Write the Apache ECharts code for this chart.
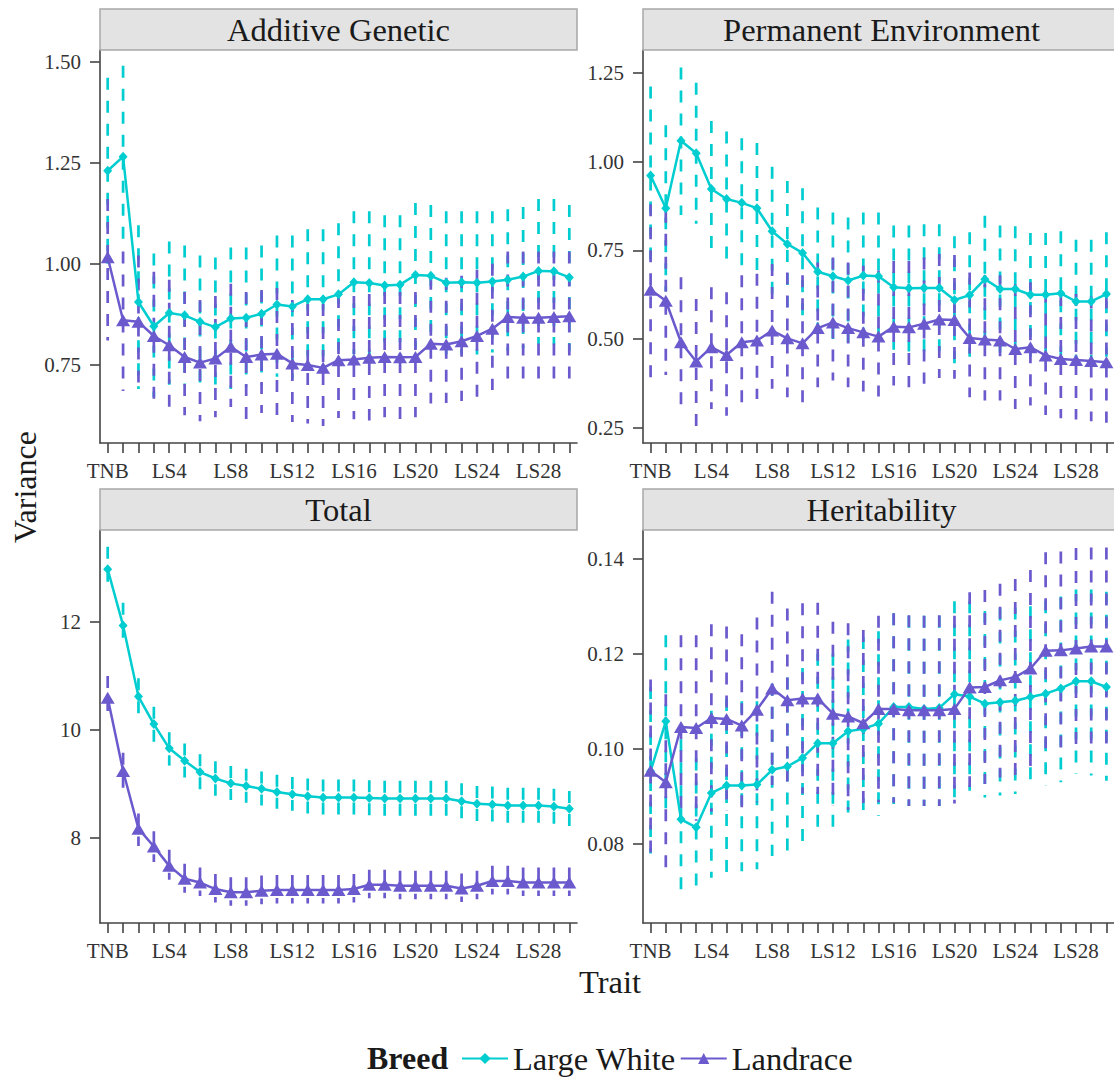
<!DOCTYPE html>
<html>
<head>
<meta charset="utf-8">
<script src="https://cdn.jsdelivr.net/npm/echarts@6/dist/echarts.min.js"></script>
<style>
  html, body { margin: 0; padding: 0; background: #fff; }
  #main { width: 1114px; height: 1082px; }
</style>
</head>
<body>
<div id="main"></div>
<script>
// x categories
var traits = ['TNB', 'LS1', 'LS2', 'LS3', 'LS4', 'LS5', 'LS6', 'LS7', 'LS8', 'LS9', 'LS10',
  'LS11', 'LS12', 'LS13', 'LS14', 'LS15', 'LS16', 'LS17', 'LS18', 'LS19', 'LS20',
  'LS21', 'LS22', 'LS23', 'LS24', 'LS25', 'LS26', 'LS27', 'LS28', 'LS29', 'LS30'];

// Additive Genetic
var addLW   = [1.23, 1.265, 0.905, 0.845, 0.878, 0.872, 0.856, 0.843, 0.864, 0.866, 0.876, 0.899, 0.894, 0.912, 0.912, 0.924, 0.954, 0.952, 0.946, 0.948, 0.972, 0.970, 0.953, 0.954, 0.953, 0.956, 0.960, 0.968, 0.982, 0.981, 0.966];
var addLWhi = [1.46, 1.49, 1.095, 1.025, 1.055, 1.045, 1.02, 1.015, 1.04, 1.04, 1.045, 1.07, 1.07, 1.085, 1.085, 1.10, 1.13, 1.13, 1.12, 1.12, 1.15, 1.145, 1.13, 1.13, 1.13, 1.13, 1.135, 1.14, 1.16, 1.16, 1.145];
var addLWlo = [1.00, 1.04, 0.69, 0.67, 0.70, 0.70, 0.685, 0.675, 0.69, 0.695, 0.70, 0.72, 0.715, 0.735, 0.735, 0.745, 0.775, 0.77, 0.77, 0.77, 0.79, 0.79, 0.775, 0.775, 0.775, 0.78, 0.785, 0.79, 0.80, 0.80, 0.785];
var addLR   = [1.016, 0.860, 0.856, 0.821, 0.798, 0.769, 0.755, 0.765, 0.794, 0.769, 0.775, 0.777, 0.753, 0.749, 0.742, 0.761, 0.763, 0.767, 0.769, 0.768, 0.769, 0.802, 0.800, 0.808, 0.821, 0.839, 0.868, 0.866, 0.866, 0.868, 0.870];
var addLRhi = [1.16, 1.03, 1.02, 0.98, 0.96, 0.93, 0.91, 0.92, 0.95, 0.93, 0.935, 0.94, 0.91, 0.90, 0.90, 0.92, 0.92, 0.925, 0.93, 0.93, 0.93, 0.965, 0.965, 0.97, 0.985, 1.00, 1.03, 1.03, 1.03, 1.03, 1.03];
var addLRlo = [0.81, 0.685, 0.69, 0.66, 0.645, 0.625, 0.61, 0.62, 0.645, 0.615, 0.63, 0.625, 0.608, 0.604, 0.598, 0.618, 0.615, 0.612, 0.62, 0.615, 0.62, 0.654, 0.655, 0.66, 0.67, 0.687, 0.707, 0.705, 0.707, 0.708, 0.71];

// Permanent Environment
var peLW   = [0.961, 0.869, 1.059, 1.024, 0.923, 0.895, 0.884, 0.869, 0.804, 0.768, 0.743, 0.690, 0.677, 0.665, 0.679, 0.677, 0.646, 0.643, 0.644, 0.644, 0.610, 0.624, 0.669, 0.641, 0.641, 0.625, 0.625, 0.629, 0.606, 0.606, 0.627];
var peLWhi = [1.212, 1.103, 1.266, 1.223, 1.115, 1.085, 1.066, 1.053, 0.986, 0.946, 0.925, 0.871, 0.857, 0.843, 0.857, 0.857, 0.820, 0.820, 0.824, 0.824, 0.790, 0.801, 0.848, 0.820, 0.818, 0.799, 0.799, 0.804, 0.780, 0.780, 0.801];
var peLWlo = [0.71, 0.635, 0.85, 0.825, 0.73, 0.705, 0.70, 0.685, 0.62, 0.59, 0.56, 0.51, 0.50, 0.49, 0.50, 0.50, 0.47, 0.465, 0.465, 0.465, 0.43, 0.45, 0.49, 0.46, 0.465, 0.45, 0.45, 0.455, 0.43, 0.43, 0.45];
var peLR   = [0.639, 0.608, 0.491, 0.437, 0.477, 0.455, 0.491, 0.496, 0.524, 0.502, 0.488, 0.531, 0.547, 0.531, 0.519, 0.507, 0.535, 0.533, 0.543, 0.555, 0.554, 0.503, 0.499, 0.496, 0.472, 0.477, 0.454, 0.444, 0.441, 0.438, 0.435];
var peLRhi = [0.88, 0.862, 0.674, 0.613, 0.646, 0.632, 0.68, 0.684, 0.712, 0.688, 0.68, 0.716, 0.73, 0.716, 0.707, 0.693, 0.72, 0.72, 0.73, 0.74, 0.737, 0.688, 0.68, 0.68, 0.655, 0.66, 0.637, 0.627, 0.627, 0.62, 0.62];
var peLRlo = [0.392, 0.399, 0.294, 0.252, 0.303, 0.284, 0.317, 0.331, 0.36, 0.336, 0.322, 0.364, 0.383, 0.364, 0.352, 0.338, 0.369, 0.364, 0.374, 0.39, 0.388, 0.336, 0.327, 0.327, 0.303, 0.313, 0.286, 0.277, 0.273, 0.268, 0.264];

// Total
var totLW   = [12.98, 11.94, 10.62, 10.11, 9.66, 9.43, 9.22, 9.10, 9.01, 8.96, 8.91, 8.85, 8.81, 8.77, 8.75, 8.75, 8.75, 8.74, 8.73, 8.73, 8.73, 8.73, 8.73, 8.68, 8.63, 8.62, 8.60, 8.60, 8.60, 8.58, 8.54];
var totLWhi = [13.40, 12.36, 10.96, 10.43, 9.96, 9.75, 9.55, 9.42, 9.33, 9.28, 9.23, 9.17, 9.13, 9.10, 9.08, 9.08, 9.08, 9.07, 9.06, 9.06, 9.06, 9.06, 9.06, 9.01, 8.96, 8.95, 8.93, 8.93, 8.93, 8.91, 8.87];
var totLWlo = [12.55, 11.52, 10.28, 9.78, 9.34, 9.12, 8.90, 8.78, 8.70, 8.65, 8.60, 8.54, 8.50, 8.45, 8.43, 8.43, 8.43, 8.42, 8.41, 8.41, 8.41, 8.41, 8.41, 8.36, 8.31, 8.30, 8.28, 8.28, 8.28, 8.26, 8.22];
var totLR   = [10.60, 9.24, 8.17, 7.84, 7.48, 7.24, 7.17, 7.05, 6.99, 6.99, 7.02, 7.03, 7.03, 7.03, 7.03, 7.03, 7.05, 7.13, 7.13, 7.11, 7.11, 7.11, 7.11, 7.06, 7.11, 7.20, 7.20, 7.17, 7.17, 7.17, 7.17];
var totLRhi = [11.00, 9.58, 8.45, 8.12, 7.78, 7.52, 7.45, 7.33, 7.27, 7.27, 7.30, 7.31, 7.31, 7.31, 7.31, 7.31, 7.33, 7.41, 7.41, 7.39, 7.39, 7.39, 7.39, 7.34, 7.39, 7.48, 7.48, 7.45, 7.45, 7.45, 7.45];
var totLRlo = [10.18, 8.92, 7.85, 7.55, 7.22, 6.98, 6.92, 6.80, 6.74, 6.74, 6.77, 6.78, 6.78, 6.78, 6.78, 6.78, 6.80, 6.88, 6.88, 6.86, 6.86, 6.86, 6.86, 6.81, 6.86, 6.95, 6.95, 6.92, 6.92, 6.92, 6.92];

// Heritability
var hLW   = [0.0953, 0.1058, 0.0852, 0.0835, 0.0907, 0.0923, 0.0923, 0.0925, 0.0956, 0.0963, 0.0981, 0.1012, 0.1012, 0.1037, 0.1042, 0.1053, 0.1088, 0.1088, 0.1084, 0.1086, 0.1115, 0.1110, 0.1095, 0.1098, 0.1101, 0.1109, 0.1116, 0.1127, 0.1142, 0.1142, 0.1130];
var hLWhi = [0.113, 0.1239, 0.102, 0.098, 0.108, 0.1105, 0.110, 0.110, 0.1137, 0.115, 0.117, 0.120, 0.120, 0.123, 0.1235, 0.1247, 0.1285, 0.128, 0.128, 0.128, 0.131, 0.131, 0.129, 0.1295, 0.1297, 0.130, 0.131, 0.132, 0.1335, 0.1335, 0.133];
var hLWlo = [0.078, 0.0875, 0.0683, 0.069, 0.0729, 0.074, 0.0743, 0.0747, 0.0775, 0.0778, 0.0792, 0.082, 0.0822, 0.0845, 0.0849, 0.0859, 0.0884, 0.088, 0.088, 0.088, 0.0898, 0.0912, 0.0898, 0.0902, 0.0905, 0.0916, 0.0923, 0.093, 0.0947, 0.0944, 0.0933];
var hLR   = [0.0954, 0.0930, 0.1046, 0.1044, 0.1065, 0.1063, 0.1049, 0.1082, 0.1127, 0.1102, 0.1106, 0.1106, 0.1074, 0.1068, 0.1054, 0.1084, 0.1084, 0.1081, 0.1081, 0.1081, 0.1084, 0.1129, 0.1130, 0.1144, 0.1151, 0.1169, 0.1206, 0.1207, 0.1211, 0.1215, 0.1215];
var hLRhi = [0.1146, 0.1115, 0.1239, 0.1239, 0.1262, 0.1257, 0.1241, 0.1276, 0.133, 0.1295, 0.1306, 0.1307, 0.1267, 0.1264, 0.125, 0.128, 0.1285, 0.1281, 0.128, 0.1281, 0.128, 0.1329, 0.1334, 0.1347, 0.1357, 0.1376, 0.1413, 0.1415, 0.1422, 0.1423, 0.1423];
var hLRlo = [0.0764, 0.0743, 0.0853, 0.0849, 0.0868, 0.087, 0.0857, 0.0888, 0.0924, 0.091, 0.0906, 0.0905, 0.088, 0.0872, 0.0863, 0.0888, 0.0887, 0.088, 0.088, 0.088, 0.0885, 0.092, 0.0926, 0.094, 0.0945, 0.096, 0.0999, 0.0999, 0.1, 0.1007, 0.1007];

// y tick labels
var addTicks = [0.75, 1.00, 1.25, 1.50];
var peTicks = [0.25, 0.50, 0.75, 1.00, 1.25];
var totTicks = [8, 10, 12];
var hTicks = [0.08, 0.10, 0.12, 0.14];

var cyan = '#00cdd0';
var purple = '#6a5acd';
var axisCol = '#444444';
var serif = '"Liberation Serif", "DejaVu Serif", serif';
var pw = 477, ph = 393;

var panels = [
  { title: 'Additive Genetic', left: 100, top: 50, min: 0.556, max: 1.529, ticks: addTicks, dec: 2,
    lw: addLW, lwLo: addLWlo, lwHi: addLWhi, lr: addLR, lrLo: addLRlo, lrHi: addLRhi },
  { title: 'Permanent Environment', left: 643, top: 50, min: 0.207, max: 1.315, ticks: peTicks, dec: 2,
    lw: peLW, lwLo: peLWlo, lwHi: peLWhi, lr: peLR, lrLo: peLRlo, lrHi: peLRhi },
  { title: 'Total', left: 100, top: 530, min: 6.42, max: 13.71, ticks: totTicks, dec: 0,
    lw: totLW, lwLo: totLWlo, lwHi: totLWhi, lr: totLR, lrLo: totLRlo, lrHi: totLRhi },
  { title: 'Heritability', left: 643, top: 530, min: 0.0634, max: 0.146, ticks: hTicks, dec: 2,
    lw: hLW, lwLo: hLWlo, lwHi: hLWhi, lr: hLR, lrLo: hLRlo, lrHi: hLRhi }
];

// dashed vertical interval bar, drawn from the upper end down
function ciBar(color) {
  return function (params, api) {
    var top = api.coord([api.value(0), api.value(2)]);
    var bot = api.coord([api.value(0), api.value(1)]);
    return {
      type: 'line',
      shape: { x1: top[0], y1: top[1], x2: bot[0], y2: bot[1] },
      style: { stroke: color, lineWidth: 2.7, lineDash: [12, 11], fill: null }
    };
  };
}

var grids = [], xAxes = [], yAxes = [], series = [], graphics = [];

panels.forEach(function (p, i) {
  grids.push({ left: p.left, top: p.top, width: pw, height: ph });

  xAxes.push({
    type: 'category', gridIndex: i, data: traits, boundaryGap: true,
    axisLine: { show: true, onZero: false, lineStyle: { color: axisCol, width: 1.6 } },
    axisTick: { show: true, interval: 0, alignWithLabel: true, length: 10, lineStyle: { color: axisCol, width: 1.6 } },
    axisLabel: { interval: 3, margin: 17, fontSize: 21, fontFamily: serif, color: '#333' },
    splitLine: { show: false }
  });

  yAxes.push({
    type: 'value', gridIndex: i, min: p.min, max: p.max,
    axisLine: { show: true, onZero: false, lineStyle: { color: axisCol, width: 1.6 } },
    axisTick: { show: true, length: 10, customValues: p.ticks, lineStyle: { color: axisCol, width: 1.6 } },
    axisLabel: {
      customValues: p.ticks, margin: 19, fontSize: 21, fontFamily: serif, color: '#333',
      formatter: (function (d) { return function (v) { return v.toFixed(d); }; })(p.dec)
    },
    splitLine: { show: false }
  });

  series.push({
    type: 'custom', name: 'lw-ci-' + i, xAxisIndex: i, yAxisIndex: i,
    renderItem: ciBar(cyan), encode: { x: 0, y: [1, 2] }, silent: true, z: 1,
    data: p.lwLo.map(function (lo, j) { return [j, lo, p.lwHi[j]]; })
  });
  series.push({
    type: 'custom', name: 'lr-ci-' + i, xAxisIndex: i, yAxisIndex: i,
    renderItem: ciBar(purple), encode: { x: 0, y: [1, 2] }, silent: true, z: 2,
    data: p.lrLo.map(function (lo, j) { return [j, lo, p.lrHi[j]]; })
  });
  series.push({
    type: 'line', name: 'Large White', xAxisIndex: i, yAxisIndex: i, data: p.lw, z: 3,
    symbol: 'diamond', symbolSize: [9, 10], showAllSymbol: true,
    itemStyle: { color: cyan }, lineStyle: { color: cyan, width: 2.5 }
  });
  series.push({
    type: 'line', name: 'Landrace', xAxisIndex: i, yAxisIndex: i, data: p.lr, z: 4,
    symbol: 'triangle', symbolSize: [14, 12], showAllSymbol: true,
    itemStyle: { color: purple }, lineStyle: { color: purple, width: 2.5 }
  });

  // facet strip
  graphics.push({
    type: 'rect', silent: true, z: 10,
    shape: { x: p.left, y: p.top - 41, width: pw, height: 41 },
    style: { fill: '#e3e3e3', stroke: '#a8a8a8', lineWidth: 1.5 }
  });
  graphics.push({
    type: 'text', silent: true, z: 11, x: p.left + pw / 2, y: p.top - 20,
    style: { text: p.title, font: '32.5px ' + serif, fill: '#1a1a1a', align: 'center', verticalAlign: 'middle' }
  });
});

graphics.push({
  type: 'text', silent: true, x: 25, y: 487, rotation: Math.PI / 2,
  style: { text: 'Variance', font: '32px ' + serif, fill: '#1a1a1a', align: 'center', verticalAlign: 'middle' }
});
graphics.push({
  type: 'text', silent: true, x: 610, y: 982,
  style: { text: 'Trait', font: '32.5px ' + serif, fill: '#1a1a1a', align: 'center', verticalAlign: 'middle' }
});
graphics.push({
  type: 'text', silent: true, x: 367, y: 1058,
  style: { text: 'Breed', font: 'bold 32px ' + serif, fill: '#1a1a1a', align: 'left', verticalAlign: 'middle' }
});

var myChart = echarts.init(document.getElementById('main'), null, { renderer: 'svg' });

var option = {
  backgroundColor: '#ffffff',
  animation: false,
  grid: grids,
  xAxis: xAxes,
  yAxis: yAxes,
  legend: {
    data: ['Large White', 'Landrace'],
    left: 456, top: 1037,
    itemWidth: 46, itemHeight: 14, itemGap: 4,
    textStyle: { fontSize: 32.5, fontFamily: serif, color: '#1a1a1a' }
  },
  graphic: graphics,
  series: series
};

myChart.setOption(option);
</script>
</body>
</html>
